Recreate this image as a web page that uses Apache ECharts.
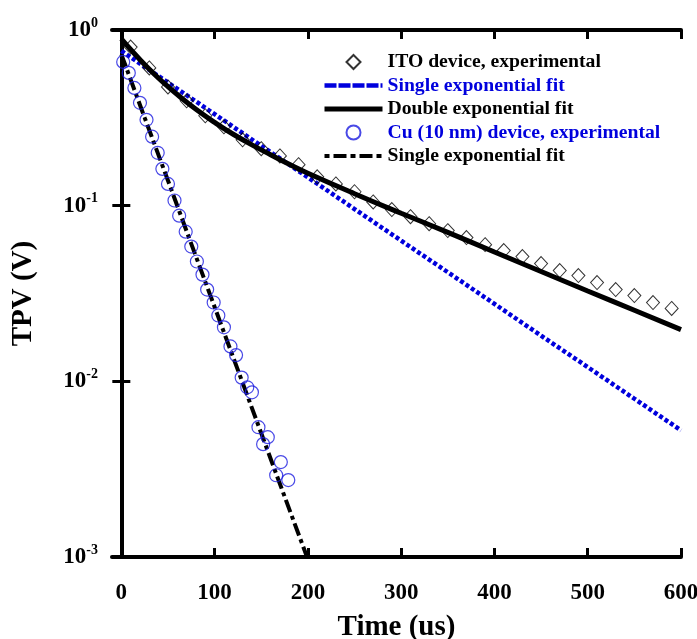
<!DOCTYPE html>
<html>
<head>
<meta charset="utf-8">
<title>TPV decay</title>
<script src="https://cdn.jsdelivr.net/npm/echarts@6/dist/echarts.min.js"></script>
<style>
	html, body { margin: 0; padding: 0; background: #fff; }
	#tpvChart { width: 697px; height: 639px; }
</style>
</head>
<body>
<div id="tpvChart"></div>
<script>
// ITO device, experimental (diamonds)
var itoTime = [10, 30, 50, 70, 90, 110, 130, 150, 170, 190, 210, 230, 250, 270, 290, 310, 330, 350, 370, 390, 410, 430, 450, 470, 490, 510, 530, 550, 570, 590];
var itoTpv = [0.80, 0.608, 0.474, 0.395, 0.325, 0.281, 0.237, 0.211, 0.192, 0.171, 0.146, 0.133, 0.120, 0.105, 0.095, 0.0866, 0.079, 0.0721, 0.0658, 0.060, 0.0555, 0.0513, 0.0468, 0.0427, 0.040, 0.0365, 0.0333, 0.0308, 0.0281, 0.026];

// ITO single exponential fit (blue)
var itoSingleTime = [0, 50, 100, 150, 200, 250, 300, 350, 400, 450, 500, 550, 600];
var itoSingleFit = [0.76, 0.502, 0.332, 0.219, 0.145, 0.0957, 0.0632, 0.0418, 0.0276, 0.0182, 0.01205, 0.00796, 0.00526];

// ITO double exponential fit (black solid)
var itoDoubleTime = [0, 10, 20, 30, 40, 50, 60, 80, 100, 120, 140, 160, 180, 200, 250, 300, 350, 400, 450, 500, 550, 600];
var itoDoubleFit = [0.89, 0.774, 0.678, 0.598, 0.531, 0.476, 0.429, 0.354, 0.298, 0.255, 0.222, 0.195, 0.172, 0.153, 0.117, 0.0905, 0.0705, 0.0545, 0.0422, 0.0327, 0.0254, 0.0197];

// Cu (10 nm) device, experimental (circles)
var cuTime = [2, 8, 14, 20, 27, 33, 39, 44, 50, 57, 62, 69, 75, 81, 87, 92, 99, 104, 110, 117, 123, 129, 135, 140, 147, 152, 157, 166, 171, 179];
var cuTpv = [0.658, 0.570, 0.468, 0.385, 0.308, 0.247, 0.200, 0.162, 0.133, 0.107, 0.0877, 0.0711, 0.0585, 0.0481, 0.0405, 0.0333, 0.0281, 0.0237, 0.0203, 0.0158, 0.0141, 0.0105, 0.00925, 0.00866, 0.00548, 0.00439, 0.00481, 0.00292, 0.00347, 0.00274];

// Cu single exponential fit (black dash-dot)
var cuFitTime = [0, 25, 50, 75, 100, 125, 150, 175, 200];
var cuFitTpv = [0.727, 0.317, 0.139, 0.0606, 0.0265, 0.01158, 0.00506, 0.00221, 0.00097];

var xTicks = [0, 100, 200, 300, 400, 500, 600];

var FONT = 'Liberation Serif';
var BLUE = '#0000dd';
var NO_MARK = {color: 'rgba(0,0,0,0)', borderWidth: 0};

window.onload = function() {

	var _tpv = {
		chart: null,
		init: function() {
			this.chart = echarts.init(document.getElementById('tpvChart'), null, {renderer: 'canvas'});
			this.draw();
		},
		pairs: function(xs, ys) {
			var out = [];
			for (var i = 0; i < xs.length; i++) {
				out.push([xs[i], ys[i]]);
			}
			return out;
		},
		xAxisCfg: function(pos, showLabel) {
			return {
				type: 'value',
				position: pos,
				min: -10,
				max: 600,
				name: showLabel ? 'Time (us)' : '',
				nameLocation: 'middle',
				nameGap: 56,
				nameTextStyle: {
					fontFamily: FONT,
					fontWeight: 'bold',
					fontSize: 29,
					color: '#000'
				},
				axisLine: {
					show: true,
					onZero: false,
					lineStyle: {color: '#000', width: 4}
				},
				axisTick: {
					show: true,
					inside: true,
					length: 9,
					customValues: xTicks,
					lineStyle: {color: '#000', width: 3}
				},
				axisLabel: {
					show: showLabel,
					customValues: xTicks,
					margin: 25,
					fontFamily: FONT,
					fontWeight: 'bold',
					fontSize: 23,
					color: '#000'
				},
				splitLine: {show: false}
			};
		},
		yAxisCfg: function(pos, showLabel) {
			return {
				type: 'log',
				logBase: 10,
				position: pos,
				min: 0.001,
				max: 1,
				name: showLabel ? 'TPV (V)' : '',
				nameLocation: 'middle',
				nameGap: 74,
				nameTextStyle: {
					fontFamily: FONT,
					fontWeight: 'bold',
					fontSize: 29,
					color: '#000'
				},
				axisLine: {
					show: true,
					lineStyle: {color: '#000', width: 4}
				},
				axisTick: {
					show: true,
					inside: true,
					length: 9,
					lineStyle: {color: '#000', width: 3}
				},
				minorTick: {show: false},
				axisLabel: {
					show: showLabel,
					margin: 14,
					formatter: function(v) {
						var e = Math.round(Math.log(v) / Math.LN10);
						return '{b|10}{s|' + e + '}';
					},
					rich: {
						b: {
							fontFamily: FONT,
							fontWeight: 'bold',
							fontSize: 23,
							color: '#000'
						},
						s: {
							fontFamily: FONT,
							fontWeight: 'bold',
							fontSize: 14,
							color: '#000',
							padding: [0, 0, 14, 0]
						}
					}
				},
				splitLine: {show: false}
			};
		},
		draw: function() {
			var self = this;
			this.chart.setOption({
				animation: false,
				backgroundColor: '#fff',
				grid: {
					left: 112,
					right: 16,
					top: 30,
					bottom: 82,
					containLabel: false,
					outerBoundsMode: 'none'
				},
				legend: {
					orient: 'vertical',
					left: 322,
					top: 52,
					padding: 0,
					itemWidth: 58,
					itemHeight: 14,
					itemGap: 3.5,
					selectedMode: false,
					textStyle: {
						fontFamily: FONT,
						fontWeight: 'bold',
						fontSize: 19.7,
						color: '#000'
					},
					data: [
						{name: 'ITO device, experimental', icon: 'path://M7,0L14,7L7,14L0,7Z'},
						{name: 'Single exponential fit', textStyle: {color: BLUE}, itemStyle: NO_MARK, lineStyle: {width: 4.5, type: [12, 2]}},
						{name: 'Double exponential fit', itemStyle: NO_MARK, lineStyle: {width: 5}},
						{name: 'Cu (10 nm) device, experimental', textStyle: {color: BLUE}},
						{name: 'Single exponential fit ', itemStyle: NO_MARK, lineStyle: {width: 4, type: [5, 4, 13, 4]}}
					]
				},
				xAxis: [self.xAxisCfg('bottom', true), self.xAxisCfg('top', false)],
				yAxis: [self.yAxisCfg('left', true), self.yAxisCfg('right', false)],
				series: [{
					name: 'Single exponential fit',
					type: 'line',
					symbol: 'none',
					showSymbol: false,
					lineStyle: {color: BLUE, width: 4.5, type: [4, 2.5]},
					itemStyle: {color: BLUE},
					data: self.pairs(itoSingleTime, itoSingleFit),
					z: 2
				}, {
					name: 'Double exponential fit',
					type: 'line',
					symbol: 'none',
					showSymbol: false,
					smooth: true,
					lineStyle: {color: '#000', width: 5},
					itemStyle: {color: '#000'},
					data: self.pairs(itoDoubleTime, itoDoubleFit),
					z: 3
				}, {
					name: 'Single exponential fit ',
					type: 'line',
					symbol: 'none',
					showSymbol: false,
					lineStyle: {color: '#000', width: 4, type: [13, 4, 4, 4]},
					itemStyle: {color: '#000'},
					data: self.pairs(cuFitTime, cuFitTpv),
					z: 3
				}, {
					name: 'ITO device, experimental',
					type: 'scatter',
					symbol: 'diamond',
					symbolSize: [13, 14],
					itemStyle: {color: 'rgba(0,0,0,0)', borderColor: '#000', borderWidth: 1},
					data: self.pairs(itoTime, itoTpv),
					z: 4
				}, {
					name: 'Cu (10 nm) device, experimental',
					type: 'scatter',
					symbol: 'circle',
					symbolSize: 13,
					itemStyle: {color: 'rgba(0,0,0,0)', borderColor: '#1c1ce0', borderWidth: 1.2},
					data: self.pairs(cuTime, cuTpv),
					z: 4
				}]
			});
		}
	};
	_tpv.init();
};
</script>
</body>
</html>
